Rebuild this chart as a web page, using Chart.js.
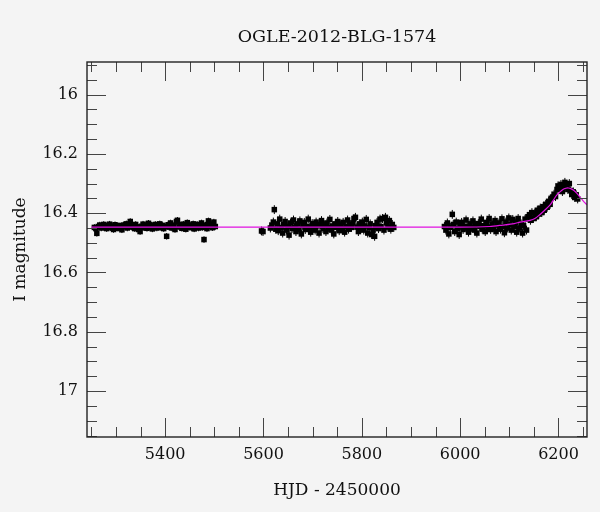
<!DOCTYPE html>
<html>
<head>
<meta charset="utf-8">
<script src="https://cdn.jsdelivr.net/npm/chart.js@4.4.0/dist/chart.umd.min.js"></script>
<style>
html,body{margin:0;padding:0;background:#f4f4f4;}
canvas{display:block;}
</style>
</head>
<body>
<canvas id="c" width="600" height="512"></canvas>
<script>
// ---- Data (HJD-2450000, I magnitude) ----
const chartTitle = 'OGLE-2012-BLG-1574';
const xTitle = 'HJD - 2450000';
const yTitle = 'I magnitude';

const season2011 = [
[5256,16.448],[5259,16.452],[5261,16.468],[5264,16.445],[5267,16.440],[5270,16.450],[5272,16.443],[5275,16.438],
[5278,16.447],[5281,16.452],[5284,16.441],[5287,16.437],[5289,16.449],[5292,16.444],[5295,16.455],[5298,16.439],
[5301,16.446],[5304,16.451],[5306,16.442],[5309,16.448],[5312,16.456],[5315,16.440],[5318,16.445],[5321,16.436],
[5323,16.450],[5326,16.443],[5329,16.428],[5332,16.447],[5335,16.441],[5338,16.452],[5340,16.438],[5343,16.446],
[5346,16.455],[5349,16.462],[5352,16.444],[5355,16.437],[5357,16.449],[5360,16.442],[5363,16.451],[5366,16.434],
[5369,16.447],[5372,16.440],[5374,16.453],[5377,16.445],[5380,16.438],[5383,16.450],[5386,16.443],[5389,16.436],
[5391,16.448],[5394,16.441],[5397,16.452],[5400,16.445],[5403,16.478],[5406,16.439],[5408,16.447],[5411,16.433],
[5414,16.450],[5417,16.442],[5420,16.455],[5423,16.428],[5425,16.424],[5428,16.446],[5431,16.440],[5434,16.451],
[5437,16.437],[5440,16.444],[5442,16.454],[5445,16.432],[5448,16.447],[5451,16.441],[5454,16.449],[5457,16.436],
[5459,16.453],[5462,16.443],[5465,16.438],[5468,16.450],[5471,16.445],[5474,16.433],[5476,16.448],[5479,16.489],
[5482,16.440],[5485,16.452],[5488,16.426],[5491,16.444],[5493,16.437],[5496,16.449],[5499,16.430],[5502,16.445]
];

const season2012a = [
[5596,16.460],[5599,16.462],[5614,16.450],[5617,16.440],[5620,16.430],[5622,16.388],[5625,16.454],[5628,16.436],
[5630,16.459],[5633,16.420],[5636,16.448],[5639,16.467],[5641,16.438],[5644,16.428],[5647,16.457],[5650,16.445],
[5652,16.474],[5655,16.433],[5658,16.452],[5661,16.423],[5663,16.447],[5666,16.462],[5669,16.436],[5672,16.454],
[5674,16.426],[5677,16.470],[5680,16.442],[5683,16.431],[5685,16.455],[5688,16.445],[5691,16.420],[5694,16.450],
[5696,16.464],[5699,16.435],[5702,16.447],[5705,16.457],[5707,16.430],[5710,16.443],[5713,16.467],[5716,16.438],
[5718,16.425],[5721,16.452],[5724,16.442],[5727,16.462],[5729,16.433],[5732,16.448],[5735,16.421],[5738,16.457],
[5740,16.443],[5743,16.470],[5746,16.436],[5749,16.448],[5751,16.428],[5754,16.459],[5757,16.440],[5760,16.452],
[5762,16.431],[5765,16.464],[5768,16.445],[5771,16.423],[5773,16.454],[5776,16.438],[5779,16.448],[5782,16.433],
[5784,16.418],[5787,16.414],[5790,16.447],[5793,16.462],[5795,16.436],[5798,16.452],[5801,16.430],[5804,16.457],
[5806,16.443],[5809,16.421],[5812,16.467],[5815,16.448],[5817,16.436],[5820,16.472],[5823,16.457],[5826,16.478],
[5828,16.442],[5831,16.431],[5834,16.452],[5837,16.420],[5839,16.445],[5842,16.418],[5845,16.457],[5848,16.414],
[5850,16.433],[5853,16.447],[5856,16.425],[5859,16.454],[5862,16.438],[5865,16.448]
];

const season2012b = [
[5968,16.445],[5971,16.457],[5974,16.433],[5977,16.470],[5980,16.448],[5984,16.404],[5986,16.438],[5989,16.462],
[5992,16.430],[5995,16.452],[5998,16.472],[6001,16.442],[6003,16.431],[6006,16.455],[6009,16.445],[6012,16.423],
[6015,16.450],[6017,16.464],[6020,16.436],[6023,16.448],[6026,16.426],[6029,16.457],[6031,16.440],[6034,16.467],
[6037,16.435],[6040,16.445],[6043,16.420],[6045,16.454],[6048,16.442],[6051,16.462],[6054,16.431],[6057,16.447],
[6059,16.418],[6062,16.455],[6065,16.436],[6068,16.448],[6071,16.425],[6073,16.462],[6076,16.440],[6079,16.433],
[6082,16.454],[6085,16.419],[6087,16.445],[6090,16.466],[6093,16.430],[6096,16.450],[6099,16.416],[6101,16.438],
[6104,16.457],[6107,16.421],[6110,16.445],[6113,16.433],[6115,16.464],[6118,16.418],[6121,16.450],[6124,16.436],
[6127,16.467],[6129,16.442],[6132,16.420],[6135,16.457],[6138,16.412],[6141,16.405],[6143,16.424],[6146,16.398],
[6149,16.418],[6152,16.400],[6155,16.412],[6157,16.390],[6160,16.403],[6163,16.383],[6166,16.398],[6169,16.378],
[6171,16.390],[6174,16.370],[6177,16.380],[6180,16.360],[6183,16.370],[6185,16.350],[6188,16.346],[6191,16.336],
[6194,16.344],[6197,16.320],[6199,16.308],[6202,16.320],[6205,16.303],[6208,16.327],[6211,16.310],[6213,16.296],
[6216,16.304],[6219,16.320],[6222,16.300],[6225,16.324],[6227,16.337],[6230,16.328],[6233,16.347],[6236,16.338],
[6239,16.352]
];

const modelDays = [5250,6000,6060,6087,6110,6122,6142,6152,6162,6172,6183,6190,6196,6203,6209,6215,6220,6226,6232,6237,6245,6251,6258];
const modelMag  = [16.447,16.447,16.445,16.440,16.435,16.430,16.424,16.418,16.405,16.390,16.372,16.355,16.340,16.328,16.320,16.316,16.315,16.318,16.324,16.332,16.348,16.360,16.372];

const err2011 = 0.011;
const err2012 = 0.015;

// ---- Chart ----
Chart.defaults.font.family = 'DejaVu Serif';
Chart.defaults.color = '#111';

const obs = season2011.map(p => ({x: p[0], y: p[1], e: err2011}))
  .concat(season2012a.concat(season2012b).map(p => ({x: p[0], y: p[1], e: err2012})));
const model = modelDays.map((d, i) => ({x: d, y: modelMag[i]}));

const isMult = (v, s) => Math.abs(v / s - Math.round(v / s)) < 1e-6;

const framePlugin = {
  id: 'frame',
  beforeDraw(chart) {
    const ctx = chart.ctx;
    ctx.save();
    ctx.fillStyle = '#f4f4f4';
    ctx.fillRect(0, 0, chart.width, chart.height);
    ctx.restore();
  },
  beforeDatasetsDraw(chart) {
    const {ctx, chartArea: a, scales: {x, y}} = chart;
    ctx.save();
    ctx.beginPath();
    ctx.rect(a.left, a.top, a.right - a.left, a.bottom - a.top);
    ctx.clip();
    ctx.strokeStyle = '#000';
    ctx.lineWidth = 1;
    ctx.beginPath();
    obs.forEach(p => {
      const px = x.getPixelForValue(p.x);
      ctx.moveTo(px, y.getPixelForValue(p.y - p.e));
      ctx.lineTo(px, y.getPixelForValue(p.y + p.e));
    });
    ctx.stroke();
    ctx.restore();
  },
  afterDraw(chart) {
    const {ctx, chartArea: a, scales: {x, y}} = chart;
    ctx.save();
    ctx.strokeStyle = '#444';
    ctx.lineWidth = 1;
    ctx.beginPath();
    x.ticks.forEach(t => {
      const v = t.value;
      if (!isMult(v, 50)) return;
      const len = isMult(v, 200) ? 19 : 10;
      const px = Math.round(x.getPixelForValue(v)) + 0.5;
      ctx.moveTo(px, a.bottom); ctx.lineTo(px, a.bottom - len);
      ctx.moveTo(px, a.top); ctx.lineTo(px, a.top + len);
    });
    y.ticks.forEach(t => {
      const v = t.value;
      if (!isMult(v, 0.05)) return;
      const len = isMult(v, 0.2) ? 19 : 10;
      const py = Math.round(y.getPixelForValue(v)) + 0.5;
      ctx.moveTo(a.left, py); ctx.lineTo(a.left + len, py);
      ctx.moveTo(a.right, py); ctx.lineTo(a.right - len, py);
    });
    ctx.stroke();
    ctx.strokeStyle = '#222';
    ctx.lineWidth = 1.4;
    ctx.strokeRect(a.left, a.top, a.right - a.left, a.bottom - a.top);
    ctx.restore();
  }
};

new Chart(document.getElementById('c'), {
  type: 'scatter',
  data: {
    datasets: [
      {
        label: 'model',
        data: model,
        showLine: true,
        borderColor: '#e010e0',
        borderWidth: 1.2,
        pointRadius: 0,
        tension: 0.3,
        order: 0
      },
      {
        label: 'OGLE I',
        data: obs,
        pointStyle: 'rect',
        pointRadius: 3.9,
        backgroundColor: '#000',
        borderWidth: 0,
        order: 1
      }
    ]
  },
  plugins: [framePlugin],
  options: {
    responsive: false,
    animation: false,
    devicePixelRatio: 1,
    layout: {padding: {left: 0, right: 13, top: 0, bottom: 0}},
    plugins: {
      legend: {display: false},
      tooltip: {enabled: false},
      title: {
        display: true,
        text: chartTitle,
        fullSize: false,
        font: {family: 'DejaVu Serif', size: 17.5, weight: 'normal'},
        color: '#111',
        padding: {top: 27, bottom: 14}
      }
    },
    scales: {
      x: {
        type: 'linear',
        min: 5241,
        max: 6258,
        grid: {display: false, drawTicks: false},
        border: {display: false},
        ticks: {
          stepSize: 50,
          includeBounds: false,
          autoSkip: false,
          maxRotation: 0,
          padding: 8,
          font: {size: 16},
          color: '#111',
          callback: v => isMult(v, 200) ? String(Math.round(v)) : ''
        },
        title: {
          display: true,
          text: xTitle,
          font: {size: 17},
          color: '#111',
          padding: {top: 0, bottom: 11}
        },
        afterFit: s => { s.height = 75; }
      },
      y: {
        type: 'linear',
        reverse: true,
        min: 15.89,
        max: 17.155,
        grid: {display: false, drawTicks: false},
        border: {display: false},
        ticks: {
          stepSize: 0.05,
          includeBounds: false,
          autoSkip: false,
          padding: 9,
          font: {size: 16},
          color: '#111',
          callback: v => isMult(v, 0.2) ? String(+v.toFixed(1)) : ''
        },
        title: {
          display: true,
          text: yTitle,
          font: {size: 17},
          color: '#111',
          padding: {top: 10, bottom: 0}
        },
        afterFit: s => { s.width = 87; }
      }
    }
  }
});
</script>
</body>
</html>
